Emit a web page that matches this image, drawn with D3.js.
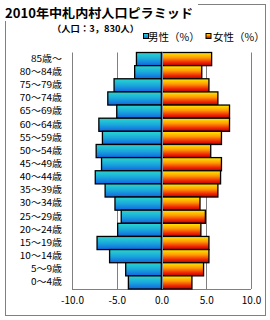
<!DOCTYPE html>
<html><head><meta charset="utf-8">
<script src="https://cdn.jsdelivr.net/npm/d3@7"></script>
<style>body{margin:0;background:#fff}svg{display:block}</style>
</head><body>
<script>
const categories = ["85歳～","80～84歳","75～79歳","70～74歳","65～69歳","60～64歳","55～59歳","50～54歳","45～49歳","40～44歳","35～39歳","30～34歳","25～29歳","20～24歳","15～19歳","10～14歳","5～9歳","0～4歳"];
const male   = [2.8,3.0,5.3,6.0,5.0,7.0,6.6,7.3,6.7,7.4,6.3,5.2,4.5,4.9,7.2,5.8,4.0,3.7];
const female = [5.6,4.5,5.3,6.3,7.6,7.6,6.7,5.5,6.7,6.6,6.3,4.3,4.9,4.4,5.3,5.3,4.7,3.4];
const tickValues = [-10,-5,0,5,10];
const tickLabels = ["-10.0","-5.0","0.0","5.0","10.0"];
const seriesNames = ["男性（%）","女性（%）"];
const title = "2010年中札内村人口ピラミッド";
const subtitle = "（人口：3，830人）";

const W=270,H=320;
const font = "'Noto Sans CJK JP','Noto Sans',sans-serif";
const svg = d3.select("body").append("svg").attr("width",W).attr("height",H);
const defs = svg.append("defs");
const gm = defs.append("linearGradient").attr("id","gm").attr("x1",0).attr("y1",0).attr("x2",0).attr("y2",1);
[[0,"#2ad6cf"],[0.5,"#1aa8dc"],[1,"#1264e0"]].forEach(s=>gm.append("stop").attr("offset",s[0]).attr("stop-color",s[1]));
const gf = defs.append("linearGradient").attr("id","gf").attr("x1",0).attr("y1",0).attr("x2",0).attr("y2",1);
[[0,"#ffec00"],[0.4,"#ff9a00"],[0.75,"#f02800"],[1,"#b80000"]].forEach(s=>gf.append("stop").attr("offset",s[0]).attr("stop-color",s[1]));

// outer frame
svg.append("rect").attr("x",5.5).attr("y",4.5).attr("width",260).attr("height",311).attr("fill","#fff").attr("stroke","#808080").attr("stroke-width",1);

const x = d3.scaleLinear().domain([-10,10]).range([72,251]);
const y = d3.scaleBand().domain(categories).range([52.5,289]).padding(0);

// gridlines
svg.append("g").selectAll("line").data(tickValues).join("line")
  .attr("x1",d=>Math.round(x(d))+0.5).attr("x2",d=>Math.round(x(d))+0.5)
  .attr("y1",52.5).attr("y2",289).attr("stroke","#808080").attr("stroke-width",1);
// x axis line
svg.append("line").attr("x1",x(-10)).attr("x2",x(10)).attr("y1",289.5).attr("y2",289.5).attr("stroke","#808080");

// bars
svg.append("g").selectAll("rect").data(categories).join("rect")
  .attr("x",(d,i)=>x(-male[i])).attr("width",(d,i)=>x(0)-x(-male[i]))
  .attr("y",d=>y(d)).attr("height",y.bandwidth())
  .attr("fill","url(#gm)").attr("stroke","#000").attr("stroke-width",1.3);
svg.append("g").selectAll("rect").data(categories).join("rect")
  .attr("x",x(0)).attr("width",(d,i)=>x(female[i])-x(0))
  .attr("y",d=>y(d)).attr("height",y.bandwidth())
  .attr("fill","url(#gf)").attr("stroke","#000").attr("stroke-width",1.3);
// zero axis line
svg.append("line").attr("x1",Math.round(x(0))+0.5).attr("x2",Math.round(x(0))+0.5).attr("y1",52.5).attr("y2",289).attr("stroke","#7f8fa0").attr("stroke-width",1);

// category labels
const yAxis = d3.axisLeft(y).tickSize(0).tickPadding(0);
const ya = svg.append("g").attr("transform","translate(62,0)").call(yAxis);
ya.select(".domain").remove();
ya.selectAll("text").attr("font-family",font).attr("font-size",10).attr("fill","#000")
  .each(function(){ const L=this.getComputedTextLength(); d3.select(this).attr("font-size",8.8).attr("textLength",L).attr("lengthAdjust","spacingAndGlyphs"); });

// x tick labels
const xAxis = d3.axisBottom(x).tickValues(tickValues).tickFormat((d,i)=>tickLabels[i]).tickSize(0).tickPadding(0);
const xa = svg.append("g").attr("transform","translate(0,297)").call(xAxis);
xa.select(".domain").remove();
xa.selectAll("text").attr("font-family",font).attr("font-size",10).attr("fill","#000");

// title
svg.append("rect").attr("x",0).attr("y",0).attr("width",198).attr("height",21).attr("fill","#fff");
svg.append("text").attr("x",5).attr("y",17.5).attr("font-family",font).attr("font-weight","bold").attr("font-size",12.5).attr("textLength",188).attr("lengthAdjust","spacingAndGlyphs").text(title);
svg.append("text").attr("x",52).attr("y",31.5).attr("font-family",font).attr("font-weight","bold").attr("font-size",8.8).attr("textLength",87).attr("lengthAdjust","spacingAndGlyphs").text(subtitle);

// legend
const leg = [{x:143,g:"url(#gm)",t:seriesNames[0],tx:148},{x:205.5,g:"url(#gf)",t:seriesNames[1],tx:213}];
leg.forEach(l=>{
  svg.append("rect").attr("x",l.x+0.5).attr("y",33.5).attr("width",5).attr("height",5).attr("fill",l.g).attr("stroke","#000").attr("stroke-width",1);
  svg.append("text").attr("x",l.tx).attr("y",40.5).attr("font-family",font).attr("font-size",10.5).text(l.t);
});
</script>
</body></html>
